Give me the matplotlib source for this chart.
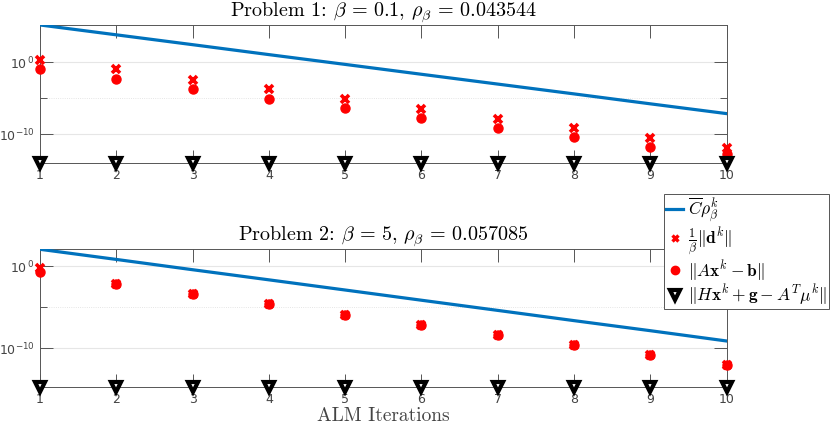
import matplotlib
matplotlib.use('Agg')
import matplotlib.pyplot as plt
from matplotlib.lines import Line2D
from matplotlib.ticker import FixedLocator, NullFormatter

plt.rcParams['mathtext.fontset'] = 'cm'

iters = [1, 2, 3, 4, 5, 6, 7, 8, 9, 10]

# Problem 1
p1_bound = [1.6e5, 6.8e3, 2.9e2, 12, 0.52, 2.2e-2, 9.5e-4, 4.1e-5, 1.7e-6, 7.4e-8]
p1_d = [2.5, 0.11, 3.5e-3, 1.8e-4, 7.2e-6, 3.2e-7, 1.3e-8, 6.3e-10, 2.8e-11, 1.1e-12]
p1_res = [0.12, 5.0e-3, 2.0e-4, 8.9e-6, 4.0e-7, 1.6e-8, 7.9e-10, 4.0e-11, 1.6e-12, 2.0e-13]
p1_grad = [1e-14] * 10

# Problem 2
p2_bound = [112, 6.5, 0.36, 2.1e-2, 1.2e-3, 6.8e-5, 3.9e-6, 2.2e-7, 1.3e-8, 7.2e-10]
p2_d = [0.63, 6.8e-3, 3.6e-4, 2.1e-5, 1.1e-6, 6.8e-8, 4.0e-9, 2.3e-10, 1.4e-11, 7.4e-13]
p2_res = [0.18, 6.8e-3, 3.6e-4, 2.1e-5, 1.1e-6, 6.8e-8, 4.0e-9, 2.3e-10, 1.4e-11, 7.4e-13]
p2_grad = [1.6e-15] * 10

titles = [r'Problem 1: $\beta\,=\,0.1$, $\rho_\beta\,=\,0.043544$',
          r'Problem 2: $\beta\,=\,5$, $\rho_\beta\,=\,0.057085$']

blue = '#0072BD'
axcol = '#555555'

fig = plt.figure(figsize=(8.3, 4.26), dpi=100)
ax1 = fig.add_axes([0.0482, 0.6174, 0.8273, 0.324])
ax2 = fig.add_axes([0.0482, 0.0908, 0.8273, 0.324])

for ax, bound, d, res, grad, title in [(ax1, p1_bound, p1_d, p1_res, p1_grad, titles[0]),
                                        (ax2, p2_bound, p2_d, p2_res, p2_grad, titles[1])]:
    ax.set_yscale('log')
    ax.plot(iters, bound, color=blue, lw=2.3, zorder=3)
    ax.plot(iters, d, ls='none', marker='x', color='red', ms=5.5, mew=2.6, zorder=4, clip_on=False)
    ax.plot(iters, res, ls='none', marker='o', color='red', ms=6.5, zorder=5, clip_on=False)
    ax.plot(iters, grad, ls='none', marker='v', mfc='white', mec='black', ms=7.5, mew=3,
            zorder=6, clip_on=False)
    ax.set_xlim(1, 10)
    ax.set_ylim(min(grad), max(bound))
    ax.set_xticks(iters)
    ax.set_yticks([1e-10, 1e0])
    ax.yaxis.set_minor_locator(FixedLocator([1e-5]))
    ax.yaxis.set_minor_formatter(NullFormatter())
    ax.set_yticklabels([r'$10^{-10}$', r'$10^{\,0}$'])
    for lab in ax.get_yticklabels():
        lab.set_math_fontfamily('dejavusans')
    ax.tick_params(which='both', direction='in', top=True, right=True, length=9.5,
                   width=0.7, color=axcol, labelcolor='#444444', labelsize=9, pad=4)
    ax.tick_params(axis='y', which='minor', length=5)
    ax.grid(True, which='major', axis='y', color='#e6e6e6', lw=0.8)
    ax.grid(True, which='minor', axis='y', color='#dddddd', lw=0.6, ls=':')
    ax.set_axisbelow(True)
    for s in ax.spines.values():
        s.set_color(axcol)
        s.set_linewidth(0.7)
    ax.set_title(title, fontsize=14.5, family='cmr10', pad=3)

ax2.set_xlabel('ALM Iterations', fontsize=14, family='cmr10', color='#444444', labelpad=1)

handles = [
    Line2D([], [], color=blue, lw=2.3),
    Line2D([], [], ls='none', marker='x', color='red', ms=5, mew=2.4),
    Line2D([], [], ls='none', marker='o', color='red', ms=6),
    Line2D([], [], ls='none', marker='v', mfc='white', mec='black', ms=7, mew=3),
]
labels = [r'$\overline{C}\rho_\beta^k$',
          r'$\frac{1}{\beta}\|\mathbf{d}^k\|$',
          r'$\|A\mathbf{x}^k-\mathbf{b}\|$',
          r'$\|H\mathbf{x}^k+\mathbf{g}-A^T\mu^k\|$']
leg = fig.legend(handles, labels, loc='upper right', bbox_to_anchor=(0.999, 1 - 194 / 426),
                 fontsize=12.5, handlelength=1.0, handletextpad=0.3, borderpad=0.1,
                 labelspacing=0.0, borderaxespad=0, fancybox=False, framealpha=1)
leg.get_frame().set_edgecolor(axcol)
leg.get_frame().set_linewidth(0.7)

fig.savefig('out.png', dpi=100)
